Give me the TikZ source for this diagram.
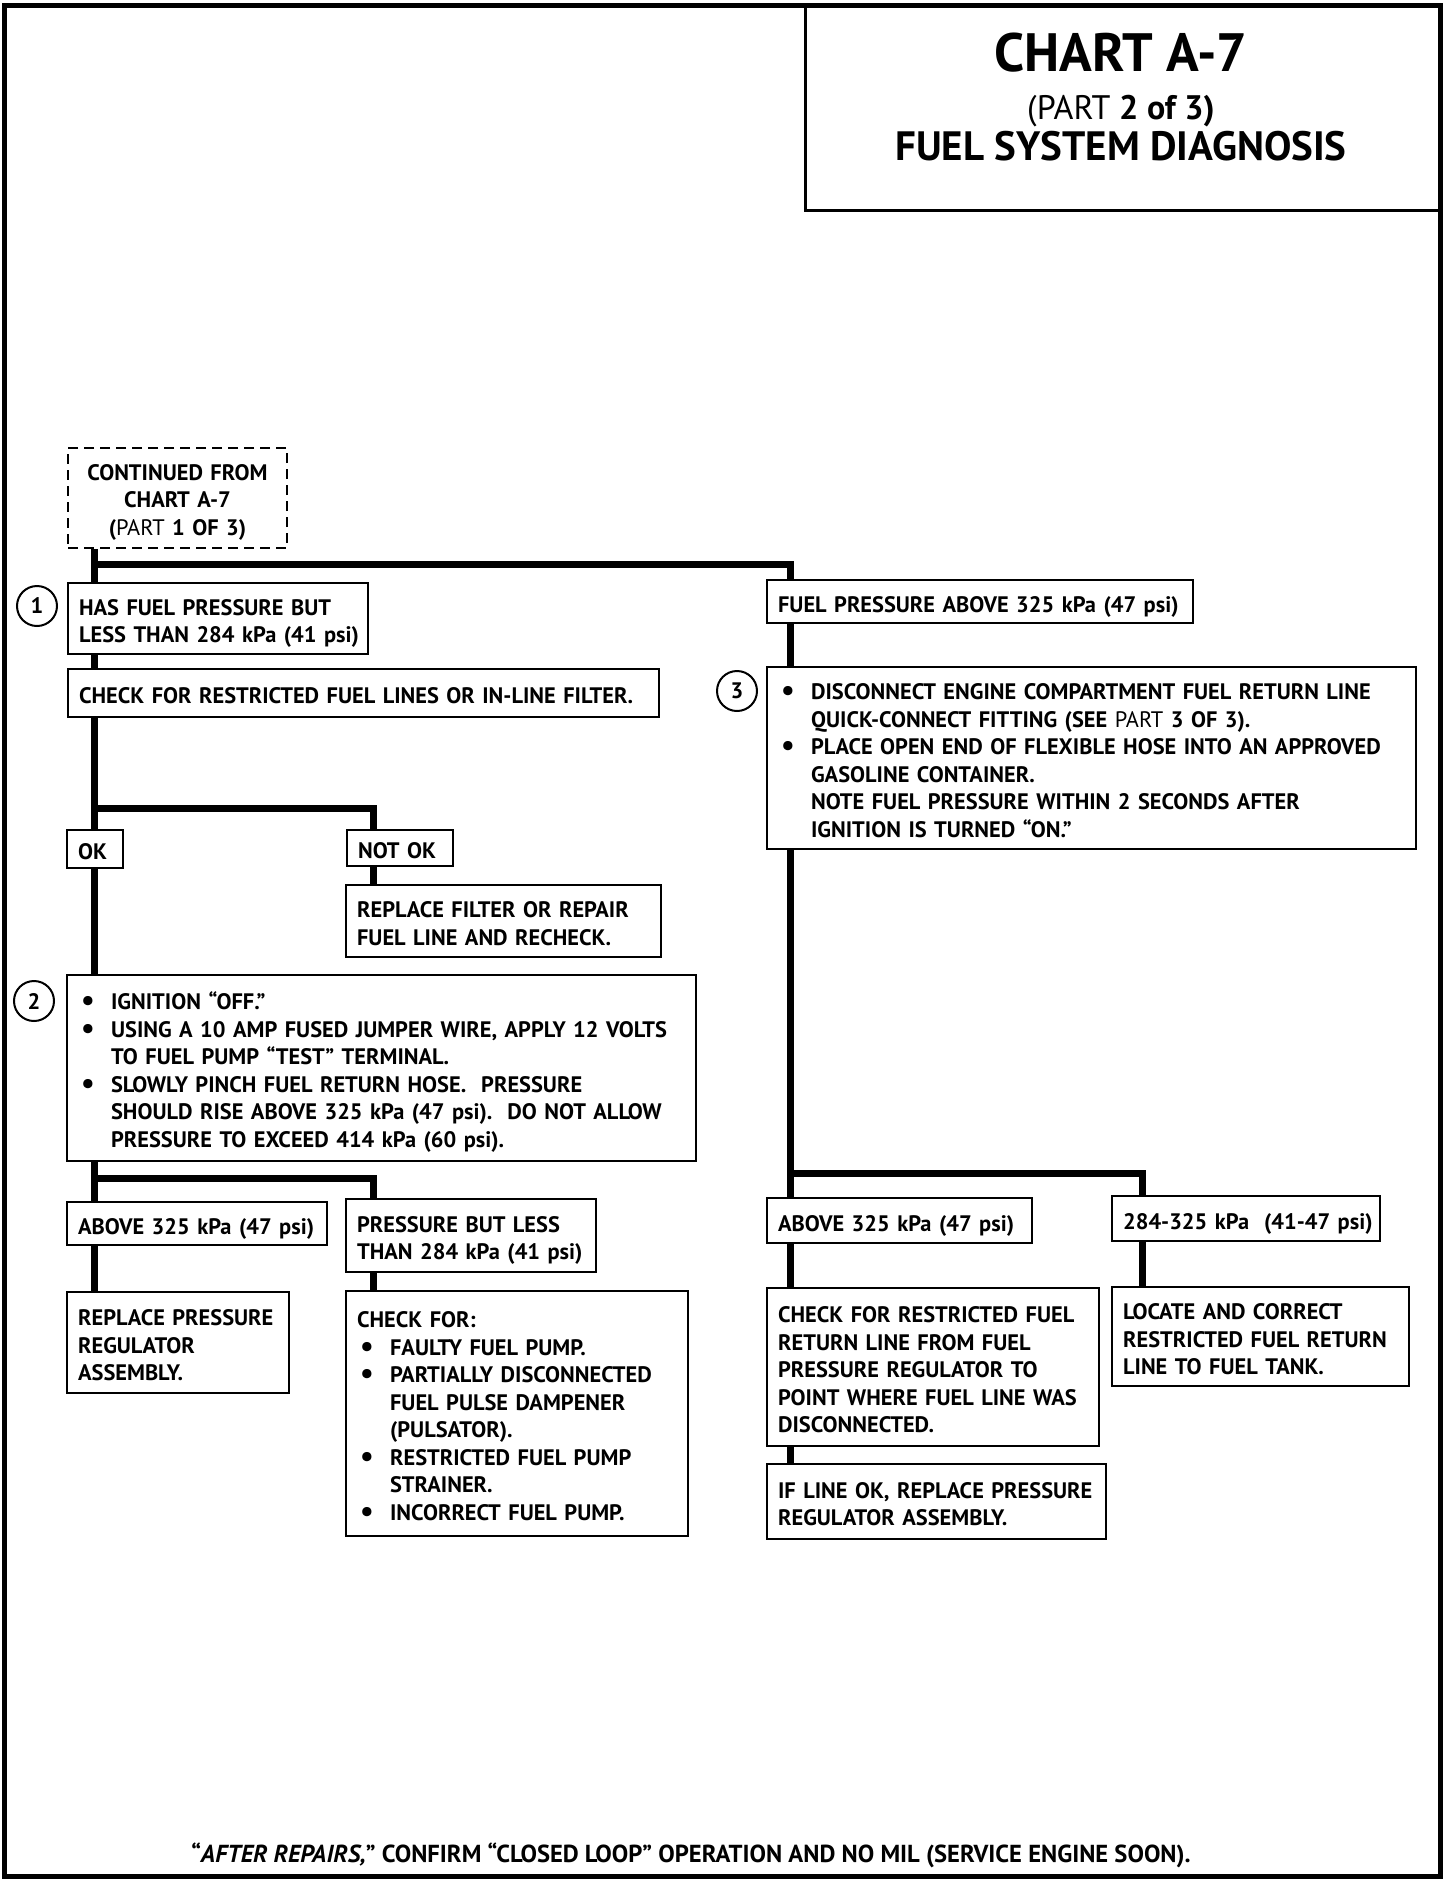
\documentclass[tikz,border=0pt]{standalone}
\usepackage{fontspec}
\setmainfont{PT Sans}
\newcommand\bodyfont{\fontsize{11.2}{13.75}\selectfont\bfseries}
\newcommand\boxlines[1]{\raisebox{-2.5pt}[\height][\depth]{\begin{tabular}{@{}l@{}}#1\end{tabular}}}
\newcommand\centerlines[1]{\raisebox{-2pt}[\height][\depth]{\begin{tabular}{@{}c@{}}#1\end{tabular}}}
\newcommand\bulitem{\makebox[16.5pt][l]{\hspace{1.5pt}\raisebox{-0.4pt}{\scalebox{1.35}{•}}}}
\newcommand\contline{\hspace*{16.5pt}}
\newcommand\lightpart{{\mdseries PART}}
\begin{document}
\begin{tikzpicture}[x=0.5pt,y=-0.5pt,
  bx/.style={draw, line width=1.1pt, anchor=north west, inner xsep=5.5pt, inner ysep=0pt, align=left, font=\bodyfont},
  conn/.style={line width=3.5pt},
  num/.style={circle, draw, line width=1pt, minimum size=20pt, inner sep=0pt, font=\bodyfont}]
\useasboundingbox (0,0) rectangle (1456,1886);
% outer frame
\draw[line width=2.5pt] (4,5) rectangle (1440,1876);
% title
\node[draw, line width=1.4pt, anchor=north west, minimum width=318pt, minimum height=102pt, inner sep=0pt] (title) at (804,5) {};
\node[font=\bfseries\fontsize{27}{30}\selectfont] (t1) at (1121,53) {CHART A-7};
\node[font=\bfseries\fontsize{17}{19}\selectfont] (t2) at (1121,111) {{\mdseries(PART} 2 of 3)};
\node[font=\bfseries\fontsize{20.5}{22}\selectfont] (t3) at (1121,146) {FUEL SYSTEM DIAGNOSIS};

% left column
\node[bx, dashed, dash pattern=on 5pt off 3pt, line width=1pt, align=center, text width=98.5pt, minimum height=50pt] (cont) at (67,447)
  {\centerlines{CONTINUED FROM\\CHART A-7\\(\lightpart\ 1 OF 3)}};
\node[bx, text width=139pt, minimum height=35.5pt] (b1) at (67,582)
  {\boxlines{HAS FUEL PRESSURE BUT\\LESS THAN 284 kPa (41 psi)}};
\node[bx, text width=284.5pt, minimum height=24pt] (chk) at (67,668)
  {\boxlines{CHECK FOR RESTRICTED FUEL LINES OR IN-LINE FILTER.}};
\node[bx, text width=17pt, minimum height=19pt] (ok) at (66,829) {\boxlines{OK}};
\node[bx, text width=42pt, minimum height=18pt] (notok) at (346,829) {\boxlines{NOT OK}};
\node[bx, text width=146.5pt, minimum height=36pt] (repf) at (345,884)
  {\boxlines{REPLACE FILTER OR REPAIR\\FUEL LINE AND RECHECK.}};
\node[bx, text width=303.5pt, minimum height=93pt] (b2) at (66,974)
  {\boxlines{\bulitem IGNITION “OFF.”\\
   \bulitem USING A 10 AMP FUSED JUMPER WIRE, APPLY 12 VOLTS\\
   \contline TO FUEL PUMP “TEST” TERMINAL.\\
   \bulitem SLOWLY PINCH FUEL RETURN HOSE.\ \ PRESSURE\\
   \contline SHOULD RISE ABOVE 325 kPa (47 psi).\ \ DO NOT ALLOW\\
   \contline PRESSURE TO EXCEED 414 kPa (60 psi).}};
\node[bx, text width=119pt, minimum height=21.5pt] (above1) at (66,1201)
  {\boxlines{ABOVE 325 kPa (47 psi)}};
\node[bx, text width=114pt, minimum height=36.5pt] (pbl) at (345,1198)
  {\boxlines{PRESSURE BUT LESS\\THAN 284 kPa (41 psi)}};
\node[bx, text width=100pt, minimum height=50.5pt] (repreg) at (66,1291)
  {\boxlines{REPLACE PRESSURE\\REGULATOR\\ASSEMBLY.}};
\node[bx, text width=160pt, minimum height=122.5pt] (chkfor) at (345,1290)
  {\boxlines{CHECK FOR:\\
   \bulitem FAULTY FUEL PUMP.\\
   \bulitem PARTIALLY DISCONNECTED\\
   \contline FUEL PULSE DAMPENER\\
   \contline (PULSATOR).\\
   \bulitem RESTRICTED FUEL PUMP\\
   \contline STRAINER.\\
   \bulitem INCORRECT FUEL PUMP.}};

% right column
\node[bx, text width=202pt, minimum height=21.5pt] (fpa) at (766,579)
  {\boxlines{FUEL PRESSURE ABOVE 325 kPa (47 psi)}};
\node[bx, text width=313.5pt, minimum height=91pt] (b3) at (766,666)
  {\boxlines{\bulitem DISCONNECT ENGINE COMPARTMENT FUEL RETURN LINE\\
   \contline QUICK-CONNECT FITTING (SEE \lightpart\ 3 OF 3).\\
   \bulitem PLACE OPEN END OF FLEXIBLE HOSE INTO AN APPROVED\\
   \contline GASOLINE CONTAINER.\\
   \contline NOTE FUEL PRESSURE WITHIN 2 SECONDS AFTER\\
   \contline IGNITION IS TURNED “ON.”}};
\node[bx, text width=121.5pt, minimum height=22.5pt] (above2) at (766,1197)
  {\boxlines{ABOVE 325 kPa (47 psi)}};
\node[bx, text width=123pt, minimum height=22.5pt] (r284) at (1111,1195)
  {\boxlines{284-325 kPa\ \ (41-47 psi)}};
\node[bx, text width=155pt, minimum height=79pt] (chkret) at (766,1287)
  {\boxlines{CHECK FOR RESTRICTED FUEL\\RETURN LINE FROM FUEL\\PRESSURE REGULATOR TO\\POINT WHERE FUEL LINE WAS\\DISCONNECTED.}};
\node[bx, text width=137.5pt, minimum height=49.5pt] (locate) at (1111,1286)
  {\boxlines{LOCATE AND CORRECT\\RESTRICTED FUEL RETURN\\LINE TO FUEL TANK.}};
\node[bx, text width=158.5pt, minimum height=37.5pt] (ifline) at (766,1463)
  {\boxlines{IF LINE OK, REPLACE PRESSURE\\REGULATOR ASSEMBLY.}};

% step numbers
\node[num] (n1) at (37,606) {1};
\node[num] (n2) at (34,1001) {2};
\node[num] (n3) at (737,691) {3};

% connector coordinates
\coordinate (lx) at (94,0);
\coordinate (mx) at (373,0);
\coordinate (rx) at (790,0);
\coordinate (fx) at (1142,0);
\coordinate (j1) at (94,564);
\coordinate (j2) at (94,808);
\coordinate (j3) at (94,1178);
\coordinate (j4) at (790,1173);

\draw[conn] (cont.south -| lx) -- (b1.north -| lx);
\draw[conn] (j1) -| (fpa.north -| rx);
\draw[conn] (b1.south -| lx) -- (chk.north -| lx);
\draw[conn] (chk.south -| lx) -- (ok.north -| lx);
\draw[conn] (j2) -| (notok.north -| mx);
\draw[conn] (notok.south -| mx) -- (repf.north -| mx);
\draw[conn] (ok.south -| lx) -- (b2.north -| lx);
\draw[conn] (b2.south -| lx) -- (above1.north -| lx);
\draw[conn] (j3) -| (pbl.north -| mx);
\draw[conn] (above1.south -| lx) -- (repreg.north -| lx);
\draw[conn] (pbl.south -| mx) -- (chkfor.north -| mx);
\draw[conn] (fpa.south -| rx) -- (b3.north -| rx);
\draw[conn] (b3.south -| rx) -- (above2.north -| rx);
\draw[conn] (j4) -| (r284.north -| fx);
\draw[conn] (above2.south -| rx) -- (chkret.north -| rx);
\draw[conn] (chkret.south -| rx) -- (ifline.north -| rx);
\draw[conn] (r284.south -| fx) -- (locate.north -| fx);

% footer
\node[font=\bfseries\fontsize{12.3}{14}\selectfont] (foot) at (691,1855)
  {“\textit{AFTER REPAIRS,}” CONFIRM “CLOSED LOOP” OPERATION AND NO MIL (SERVICE ENGINE SOON).};
\end{tikzpicture}
\end{document}
